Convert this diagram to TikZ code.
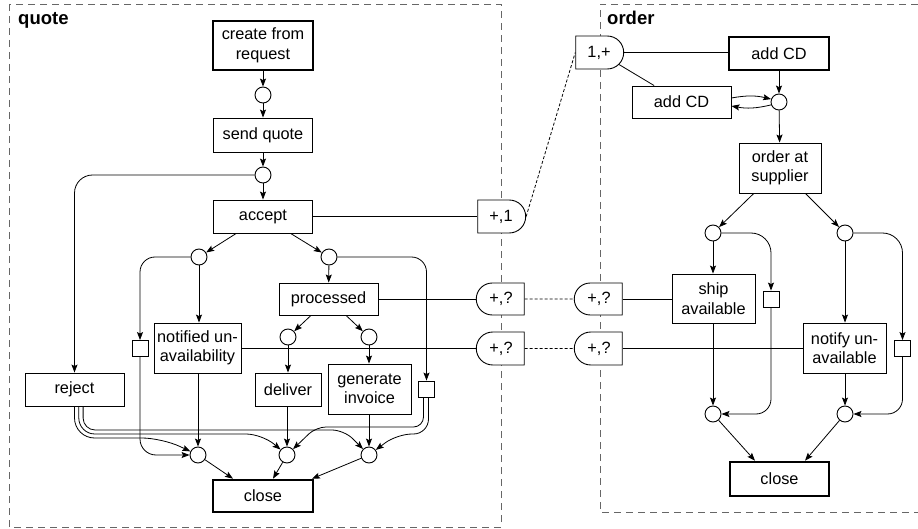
\documentclass[tikz,border=0pt]{standalone}
\usepackage{fontspec}
\setmainfont{Liberation Sans}
\usetikzlibrary{%
	arrows.meta,%
	shapes.misc%
}

\begin{document}
\begin{tikzpicture}[x=1pt, y=-1pt,
	every node/.style={font=\fontsize{16.3}{19.5}\selectfont},
	task/.style={draw, line width=0.9pt, align=center, inner sep=1pt, minimum width=99pt, minimum height=33pt},
	first/.style={task, line width=2.6pt},
	place/.style={draw, circle, line width=0.9pt, minimum size=16pt, inner sep=0pt},
	marker/.style={draw, line width=0.9pt, minimum size=16pt, inner sep=0pt},
	gateR/.style={draw, fill=white, rounded rectangle, rounded rectangle left arc=none, line width=0.9pt, minimum width=50pt, minimum height=33pt, inner sep=1pt},
	gateL/.style={draw, fill=white, rounded rectangle, rounded rectangle right arc=none, line width=0.9pt, minimum width=50pt, minimum height=33pt, inner sep=1pt},
	flow/.style={-{Stealth[length=8pt,width=6pt,inset=1.5pt]}, line width=0.8pt},
	link/.style={line width=0.8pt},
	sync/.style={line width=0.8pt, dash pattern=on 3pt off 2pt},
	boundary/.style={black!60, line width=0.9pt, dash pattern=on 7pt off 5pt},
	lbl/.style={font=\fontsize{18.5}{22}\selectfont\bfseries, inner sep=0pt}
	]
	\useasboundingbox (0,0) rectangle (918,529);
	
	\draw[boundary] (9,4) rectangle (501,527);
	\draw[boundary] (918,4) -| (600,512) -- (918,512);
	\node[lbl, anchor=base west] (qlbl) at (18,25) {quote};
	\node[lbl, anchor=base west] (olbl) at (607,25) {order};
	
	% quote
	\node[first, minimum width=100pt, minimum height=49pt] (crt) at (263,45.5) {create from\\request};
	\node[place] (qp1) at (263,95) {};
	\node[task, minimum height=34pt] (snd) at (263,135) {send quote};
	\node[place] (qp2) at (263,175) {};
	\node[task] (acc) at (263,216.5) {accept};
	\node[place] (qp3) at (199,257) {};
	\node[place] (qp4) at (329,257) {};
	\node[task] (rej) at (74.5,389.5) {reject};
	\node[task, minimum width=87pt, minimum height=50pt] (nua) at (197.5,348) {notified un-\\availability};
	\node[marker] (qs1) at (140,348.5) {};
	\node[task, minimum height=32pt] (prc) at (328.5,299) {processed};
	\node[marker] (qs2) at (426.5,389) {};
	\node[place] (qp5) at (288,337) {};
	\node[place] (qp6) at (369,337) {};
	\node[task, minimum width=66pt] (dlv) at (288,389.5) {deliver};
	\node[task, minimum width=83pt, minimum height=50pt] (inv) at (369.5,389) {generate\\invoice};
	\node[place] (qp7) at (198,455) {};
	\node[place] (qp8) at (287,455) {};
	\node[place] (qp9) at (369,455) {};
	\node[first, minimum width=100pt, minimum height=32pt] (qcl) at (263,496) {close};
	
	% gates
	\node[gateR] (g1) at (501,216.5) {+,1};
	\node[gateR] (g2) at (599,52.5) {1,+};
	\node[gateL, minimum height=32pt] (g3) at (501,299) {+,?};
	\node[gateL] (g4) at (501,348.5) {+,?};
	\node[gateL, minimum height=32pt] (g5) at (599,299) {+,?};
	\node[gateL] (g6) at (599,348.5) {+,?};
	
	% order
	\node[first, minimum width=100pt] (add1) at (779,53.5) {add CD};
	\node[task, minimum height=32pt] (add2) at (681.5,102) {add CD};
	\node[place] (op1) at (779,102) {};
	\node[task, minimum width=82pt, minimum height=50pt] (sup) at (780,168) {order at\\supplier};
	\node[place] (op2) at (713,233) {};
	\node[place] (op3) at (845,233) {};
	\node[task, minimum width=83pt, minimum height=49pt] (shp) at (713.5,298.5) {ship\\available};
	\node[marker] (os1) at (771,299) {};
	\node[task, minimum width=83pt, minimum height=50pt] (ntf) at (844.5,348) {notify un-\\available};
	\node[marker] (os2) at (902.5,348.5) {};
	\node[place] (op4) at (713,414) {};
	\node[place] (op5) at (845,414) {};
	\node[first, minimum height=34pt] (ocl) at (779.5,479) {close};
	
	\draw[flow] (crt) -- (qp1);
	\draw[flow] (qp1) -- (snd);
	\draw[flow] (snd) -- (qp2);
	\draw[flow] (qp2) -- (acc);
	\draw[flow, rounded corners=18pt] (qp2.west) -| (rej.north);
	\draw[flow] (acc) -- (qp3);
	\draw[flow] (acc) -- (qp4);
	\draw[flow] (qp3) -- (qp3 |- nua.north);
	\draw[flow, rounded corners=15pt] (qp3.west) -| (qs1.north);
	\draw[flow, rounded corners=16pt] (qs1.south) |- (qp7.west);
	\draw[flow] (qp4) -- (prc);
	\draw[flow, rounded corners=15pt] (qp4.east) -| (qs2.north);
	\draw[flow] (prc) -- (qp5);
	\draw[flow] (prc) -- (qp6);
	\draw[flow] (qp5) -- (dlv);
	\draw[flow] (qp6) -- (qp6 |- inv.north);
	\draw[flow] (nua.south -| qp7) -- (qp7);
	\draw[flow] (dlv.south -| qp8) -- (qp8);
	\draw[flow] (inv.south -| qp9) -- (qp9);
	\draw[flow, rounded corners=20pt] (rej.south) |- (162,438) [rounded corners=8pt] -- (qp7);
	\draw[flow, rounded corners=16pt] ([xshift=4.3pt]rej.south) |- (262,434) [rounded corners=8pt] -- (qp8);
	\draw[flow, rounded corners=12pt] ([xshift=8.6pt]rej.south) |- (344,430) [rounded corners=8pt] -- (qp9);
	\draw[flow, rounded corners=10pt] ([xshift=-3pt]qs2.south) |- (316,427) [rounded corners=8pt] -- (qp8);
	\draw[flow, rounded corners=15pt] ([xshift=2pt]qs2.south) |- (397,434) [rounded corners=8pt] -- (qp9);
	\draw[flow] (qp7) -- ([xshift=-30pt]qcl.north);
	\draw[flow] (qp8) -- ([xshift=10pt]qcl.north);
	\draw[flow] (qp9) -- ([xshift=49pt]qcl.north);
	
	\draw[link] (acc) -- (g1);
	\draw[link] (prc) -- (g3);
	\draw[link] (nua.east) -- (nua.east -| g4.west);
	\draw[link] (g2.east) -- (g2.east -| add1.west);
	\draw[link] (g2) -- (add2);
	\draw[link] (g5.east) -- (g5.east -| shp.west);
	\draw[link] (g6.east) -- (g6.east -| ntf.west);
	\draw[sync] (g1.east) -- (g2.west);
	\draw[sync] (g3) -- (g5);
	\draw[sync] (g4) -- (g6);
	
	\draw[flow] (add1) -- (op1);
	\draw[flow] ([yshift=4pt]add2.east) to[bend left=12] (op1.160);
	\draw[flow] (op1.200) to[bend left=12] ([yshift=-4pt]add2.east);
	\draw[flow] (op1) -- (sup);
	\draw[flow] (sup) -- (op2);
	\draw[flow] (sup) -- (op3);
	\draw[flow] (op2) -- (op2 |- shp.north);
	\draw[flow, rounded corners=20pt] (op2.east) -| (os1.north);
	\draw[flow, rounded corners=15pt] (os1.south) |- (op4.east);
	\draw[flow] (op3) -- (op3 |- ntf.north);
	\draw[flow, rounded corners=20pt] (op3.east) -| (os2.north);
	\draw[flow, rounded corners=15pt] (os2.south) |- (op5.east);
	\draw[flow] (shp.south -| op4) -- (op4);
	\draw[flow] (ntf.south -| op5) -- (op5);
	\draw[flow] (op4) -- ([xshift=-24.5pt]ocl.north);
	\draw[flow] (op5) -- ([xshift=25.5pt]ocl.north);
\end{tikzpicture}
\end{document}
